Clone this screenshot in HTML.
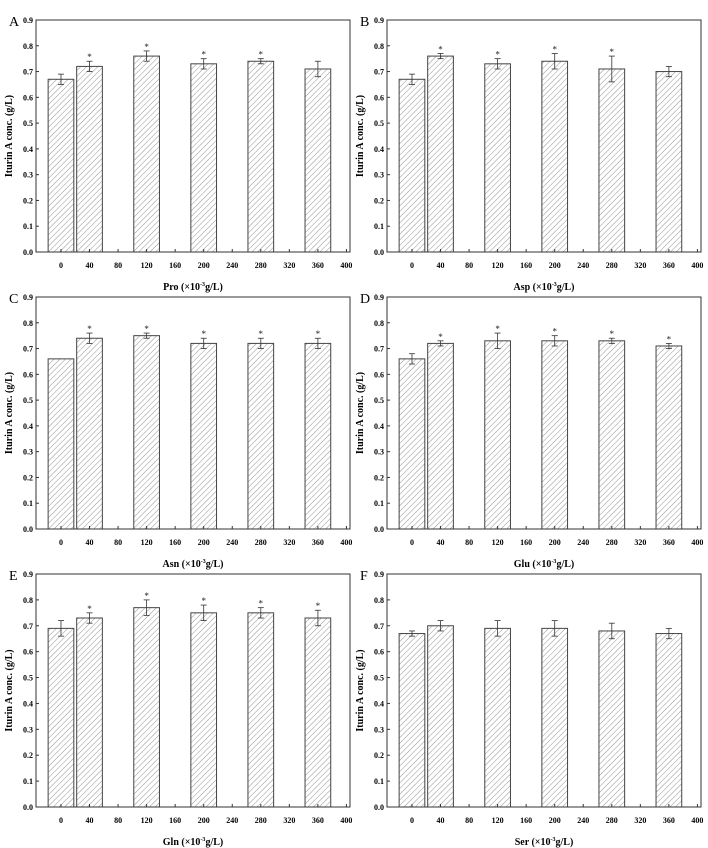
<!DOCTYPE html>
<html><head><meta charset="utf-8"><style>
body{margin:0;background:#fff;}
svg{display:block;font-family:"Liberation Serif",serif;}
</style></head><body>
<svg id="fig" width="708" height="848" viewBox="0 0 708 848" xmlns="http://www.w3.org/2000/svg">
<defs><pattern id="hatch" patternUnits="userSpaceOnUse" width="4" height="4" patternTransform="rotate(45)"><line x1="0" y1="0" x2="0" y2="4" stroke="#666" stroke-width="0.7"/></pattern></defs>
</svg>
<script>
const categories=[0,40,120,200,280,360];
const xTicks=[0,40,80,120,160,200,240,280,320,360,400];
const yTicks=[0,0.1,0.2,0.3,0.4,0.5,0.6,0.7,0.8,0.9];
const panelLetters=["A","B","C","D","E","F"];
const xTitles=["Pro","Asp","Asn","Glu","Gln","Ser"];
const valuesA=[0.67,0.72,0.76,0.73,0.74,0.71];
const errorsA=[0.02,0.02,0.02,0.02,0.01,0.03];
const starsA=[0,1,1,1,1,0];
const valuesB=[0.67,0.76,0.73,0.74,0.71,0.70];
const errorsB=[0.02,0.01,0.02,0.03,0.05,0.02];
const starsB=[0,1,1,1,1,0];
const valuesC=[0.66,0.74,0.75,0.72,0.72,0.72];
const errorsC=[0,0.02,0.01,0.02,0.02,0.02];
const starsC=[0,1,1,1,1,1];
const valuesD=[0.66,0.72,0.73,0.73,0.73,0.71];
const errorsD=[0.02,0.01,0.03,0.02,0.01,0.01];
const starsD=[0,1,1,1,1,1];
const valuesE=[0.69,0.73,0.77,0.75,0.75,0.73];
const errorsE=[0.03,0.02,0.03,0.03,0.02,0.03];
const starsE=[0,1,1,1,1,1];
const valuesF=[0.67,0.70,0.69,0.69,0.68,0.67];
const errorsF=[0.01,0.02,0.03,0.03,0.03,0.02];
const starsF=[0,0,0,0,0,0];
const allValues=[valuesA,valuesB,valuesC,valuesD,valuesE,valuesF];
const allErrors=[errorsA,errorsB,errorsC,errorsD,errorsE,errorsF];
const allStars=[starsA,starsB,starsC,starsD,starsE,starsF];

const NS="http://www.w3.org/2000/svg";
const svg=document.getElementById('fig');
function mk(tag,attrs,parent,text){const e=document.createElementNS(NS,tag);for(const k in attrs)e.setAttribute(k,attrs[k]);if(text!==undefined)e.textContent=text;parent.appendChild(e);return e;}
const layout=[[36,350,20,252],[387,701,20,252],[36,350,297,529],[387,701,297,529],[36,350,574,807],[387,701,574,807]];
const names=["a","b","c","d","e","f"];
for(let p=0;p<6;p++){
  const [L,R,T,B]=layout[p];
  const g=mk('g',{},svg);
  
  
  const xs=v=>L+(v+35)/440*(R-L);
  const ys=v=>B-v/0.9*(B-T);
  const bw=xs(36)-xs(0);
  const vals=allValues[p],errs=allErrors[p],st=allStars[p];
  for(let i=0;i<categories.length;i++){
    const cx=xs(categories[i]),y=ys(vals[i]);
    const bar=mk('rect',{x:cx-bw/2,y:y,width:bw,height:B-y,fill:'url(#hatch)',stroke:'#444','stroke-width':1},g);
    
    
    if(errs[i]>0){
      const eb=mk('g',{stroke:'#333','stroke-width':0.8},g);
      
      
      const y1=ys(vals[i]+errs[i]),y2=ys(vals[i]-errs[i]);
      mk('line',{x1:cx,x2:cx,y1:y1,y2:y2},eb);
      mk('line',{x1:cx-3,x2:cx+3,y1:y1,y2:y1},eb);
      mk('line',{x1:cx-3,x2:cx+3,y1:y2,y2:y2},eb);
    }
    if(st[i]){
      const s=mk('text',{x:cx,y:ys(vals[i]+errs[i])-1,'text-anchor':'middle','font-size':9,fill:'#222'},g,'*');
      
      
    }
  }
  const fr=mk('rect',{x:L,y:T,width:R-L,height:B-T,fill:'none',stroke:'#333','stroke-width':1},g);
  
  
  for(const t of yTicks){
    const y=ys(t);
    mk('line',{x1:L,x2:L+3,y1:y,y2:y,stroke:'#333'},g);
    const tl=mk('text',{x:L-3,y:y+3,'text-anchor':'end','font-size':8,'font-weight':'bold'},g,t.toFixed(1));
    
    
  }
  for(const t of xTicks){
    const x=xs(t);
    mk('line',{x1:x,x2:x,y1:B,y2:B-3,stroke:'#333'},g);
    const tl=mk('text',{x:x,y:B+16,'text-anchor':'middle','font-size':8,'font-weight':'bold'},g,String(t));
    
    
  }
  const xt=mk('text',{x:(L+R)/2,y:B+38,'text-anchor':'middle','font-size':10,'font-weight':'bold'},g);
  
  
  xt.innerHTML=xTitles[p]+' (×10<tspan dy="-4" font-size="6">-3</tspan><tspan dy="4">g/L)</tspan>';
  const yt=mk('text',{x:0,y:0,'text-anchor':'middle','font-size':10,'font-weight':'bold',transform:`translate(${L-24},${(T+B)/2}) rotate(-90)`},g,'Iturin A conc. (g/L)');
  
  
  const lt=mk('text',{x:L-27,y:T+6,'font-size':14},g,panelLetters[p]);
  
  
}
</script>
</body></html>
